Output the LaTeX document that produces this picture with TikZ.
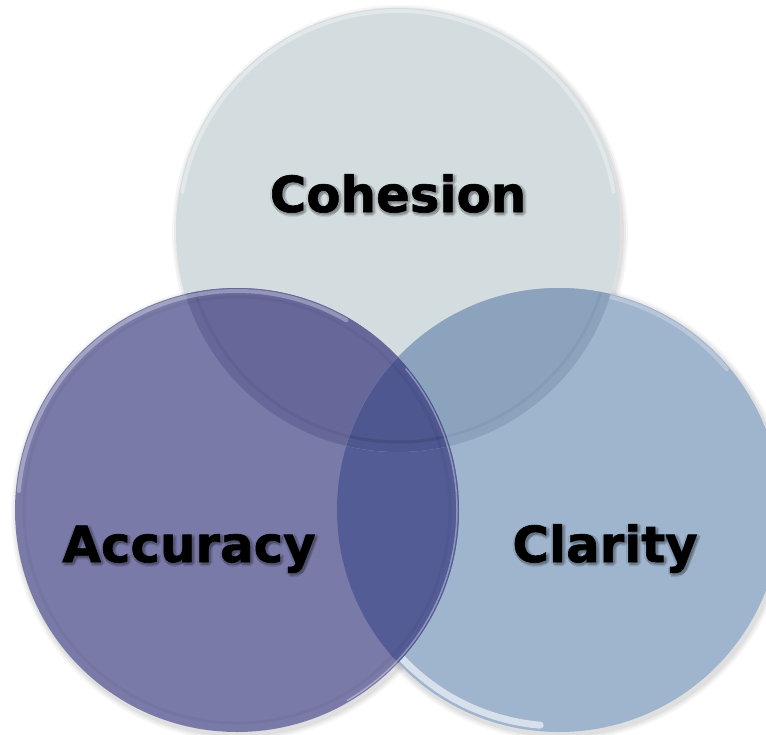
\documentclass[tikz,border=0pt]{standalone}
\usepackage{fontspec}
\setmainfont{DejaVu Sans}
\newfontfamily\lblfont{DejaVu Sans Bold}[FakeBold=1.2]
\usetikzlibrary{calc}
\definecolor{topc}{HTML}{D3DCDF}
\definecolor{leftc}{HTML}{7A7AA9}
\definecolor{rightc}{HTML}{9FB4CD}
\definecolor{tlc}{HTML}{67689A}
\definecolor{trc}{HTML}{8CA3BE}
\definecolor{lrc}{HTML}{545C96}
\definecolor{triplec}{HTML}{4E578F}
\tikzset{
  circ/.style={circle, minimum size=444bp, inner sep=0pt, outer sep=0pt},
  lbl/.style={font=\lblfont\fontsize{50}{56}\selectfont, text=black, anchor=base, inner sep=0pt},
  lblshadow/.style={lbl, text=black, opacity=0.07},
  rim/.style={line width=4bp, line cap=round},
}
\begin{document}
\begin{tikzpicture}[x=1bp,y=-1bp]
\useasboundingbox (0,0) rectangle (766,735);
\clip (0,0) rectangle (766,735);
\coordinate (ct) at (398,230);
\coordinate (cl) at (237,510);
\coordinate (cr) at (559,510);
% soft shadows
\foreach \s/\o in {6/0.035,4/0.045,2/0.05}{
  \fill[black,opacity=\o] ($(ct)+(2,3)$) circle ({222+\s});
  \fill[black,opacity=\o] ($(cl)+(2,3)$) circle ({222+\s});
  \fill[black,opacity=\o] ($(cr)+(2,3)$) circle ({222+\s});
}
% base circles
\node[circ, fill=topc] (top) at (ct) {};
\draw[rim, white, opacity=0.35] ($(ct)+(190:219)$) arc (190:350:219);
\node[circ, fill=rightc] (right) at (cr) {};
\draw[rim, white, opacity=0.25] ($(cr)+(200:219)$) arc (200:320:219);
\draw[rim, white, opacity=0.6, line width=7bp] ($(cr)+(95:216)$) arc (95:165:216);
\node[circ, fill=leftc] (left) at (cl) {};
% left-right overlap
\begin{scope}
  \clip (cl) circle (222);
  \fill[lrc] (cr) circle (222);
\end{scope}
% overlaps with top
\begin{scope}
  \clip (ct) circle (222);
  \fill[tlc] (cl) circle (222);
  \fill[trc] (cr) circle (222);
  \clip (cl) circle (222);
  \fill[triplec] (cr) circle (222);
\end{scope}
% bevel rings
\begin{scope}
  \clip (cl) circle (222);
  \draw[black,opacity=0.05,line width=3bp] (ct) circle (212);
\end{scope}
\begin{scope}
  \clip (cr) circle (222);
  \draw[black,opacity=0.04,line width=3bp] (ct) circle (212);
\end{scope}
\draw[black,opacity=0.04,line width=3bp] (cl) circle (213);
% rim highlights of the front circle
\draw[rim, white, opacity=0.30] ($(cl)+(185:219)$) arc (185:300:219);
\draw[white, opacity=0.35, line width=1.5bp] ($(cl)+(-40:220)$) arc (-40:60:220);
% label shadows
\foreach \dx/\dy in {0/2.5,2.5/0,-2/1,2/3,3/2,1/4,4/1}{
  \node[lblshadow] (cohs) at ($(398,212)+(\dx,\dy)$) {Cohesion};
  \node[lblshadow] (accs) at ($(189,562)+(\dx,\dy)$) {Accuracy};
  \node[lblshadow] (clas) at ($(605,562)+(\dx,\dy)$) {Clarity};
}
% labels
\node[lbl] (coh) at (398,212) {Cohesion};
\node[lbl] (acc) at (189,562) {Accuracy};
\node[lbl] (cla) at (605,562) {Clarity};
\end{tikzpicture}
\end{document}
